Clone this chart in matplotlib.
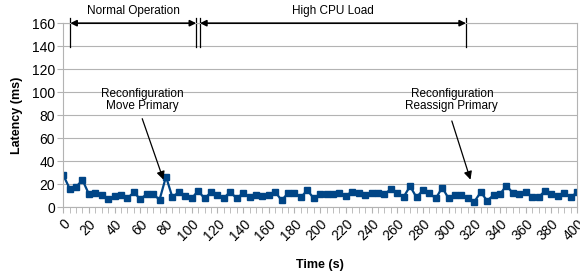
import numpy as np
import matplotlib
matplotlib.use("Agg")
from matplotlib import pyplot as plt

plt.rcParams['font.family'] = ['Liberation Sans', 'DejaVu Sans']

# time axis, one sample every 5 s
time_s = np.arange(0, 401, 5)

# latency readings (ms)
latency_ms = [28, 16.3, 17.7, 23.7, 11.4, 12, 10.6, 6.9, 9.7, 10.6,
              8, 12.9, 7.1, 11.4, 11.4, 6.6, 26.6, 8.6, 13.4, 9.4,
              7.7, 14.3, 7.7, 12.9, 10.6, 8, 13.4, 7.7, 12.3, 8.6,
              10.6, 10, 10.6, 13.4, 6, 12.3, 12.3, 8.6, 14.9, 7.7,
              11.4, 11.4, 11.4, 12.6, 10, 13.7, 12, 11.1, 12, 12,
              11.4, 15.7, 12.3, 9.1, 18.3, 8.6, 14.9, 12.3, 7.7, 17.1,
              7.7, 11.1, 10.3, 7.7, 4.9, 13.1, 5.7, 10.6, 11.4, 18.9,
              12.3, 11.4, 13.4, 9.1, 8.6, 14.3, 11.4, 10, 12.3, 8.6,
              13.1]

y_ticks = list(range(0, 161, 20))
x_ticks = list(range(0, 401, 20))

phases = [("Normal Operation", 5.5, 103.5), ("High CPU Load", 106.5, 313.5)]
# label, text x, text bottom y, arrow start (x, y), arrow tip (x, y)
notes = [("Reconfiguration\nMove Primary", 61.5, 82.5, 61.5, 77, 78, 24),
         ("Reconfiguration\nReassign Primary", 302.5, 82.5, 302.5, 75, 317, 24)]

fig = plt.figure(figsize=(5.8, 2.76), dpi=100)
ax = fig.add_axes([0.109, 0.249, 0.886, 0.667])

ax.plot(time_s, latency_ms, color='#004586', lw=1.6, marker='s', ms=4)

ax.set_xlim(0, 400)
ax.set_ylim(0, 160)
ax.set_yticks(y_ticks)
ax.set_xticks(x_ticks)
ax.set_xticks(time_s, minor=True)
ax.set_xticklabels([str(v) for v in x_ticks], rotation=45, ha='right',
                   rotation_mode='anchor', fontsize=10)
ax.tick_params(axis='y', labelsize=10, length=4, color='#b3b3b3', pad=2)
ax.tick_params(axis='x', which='both', length=4, color='#b3b3b3')
ax.tick_params(axis='x', which='major', pad=3)
ax.grid(axis='y', color='#b3b3b3', lw=0.8)
ax.set_axisbelow(True)
for sp in ax.spines.values():
    sp.set_color('#b3b3b3')
    sp.set_linewidth(0.8)

ax.set_ylabel('Latency (ms)', fontsize=9, fontweight='bold', labelpad=6)
ax.set_xlabel('Time (s)', fontsize=9, fontweight='bold', labelpad=11)

# phase markers above the plot
for label, x0, x1 in phases:
    ax.annotate('', xy=(x0, 160), xytext=(x1, 160),
                arrowprops=dict(arrowstyle='<|-|>', color='black', lw=1.2,
                                shrinkA=0, shrinkB=0, mutation_scale=9),
                annotation_clip=False)
    for xv in (x0, x1):
        ax.plot([xv, xv], [139.5, 164.5], color='black', lw=0.9, clip_on=False)
    ax.text((x0 + x1) / 2, 165, label, ha='center', va='bottom', fontsize=8.5)

for label, tx, ty, sx, sy, px, py in notes:
    ax.text(tx, ty, label, ha='center', va='bottom', fontsize=8.5,
            linespacing=1.05)
    ax.annotate('', xy=(px, py), xytext=(sx, sy),
                arrowprops=dict(arrowstyle='-|>', color='black', lw=0.9,
                                shrinkA=0, shrinkB=0, mutation_scale=12))

fig.savefig('out.png', dpi=100)
